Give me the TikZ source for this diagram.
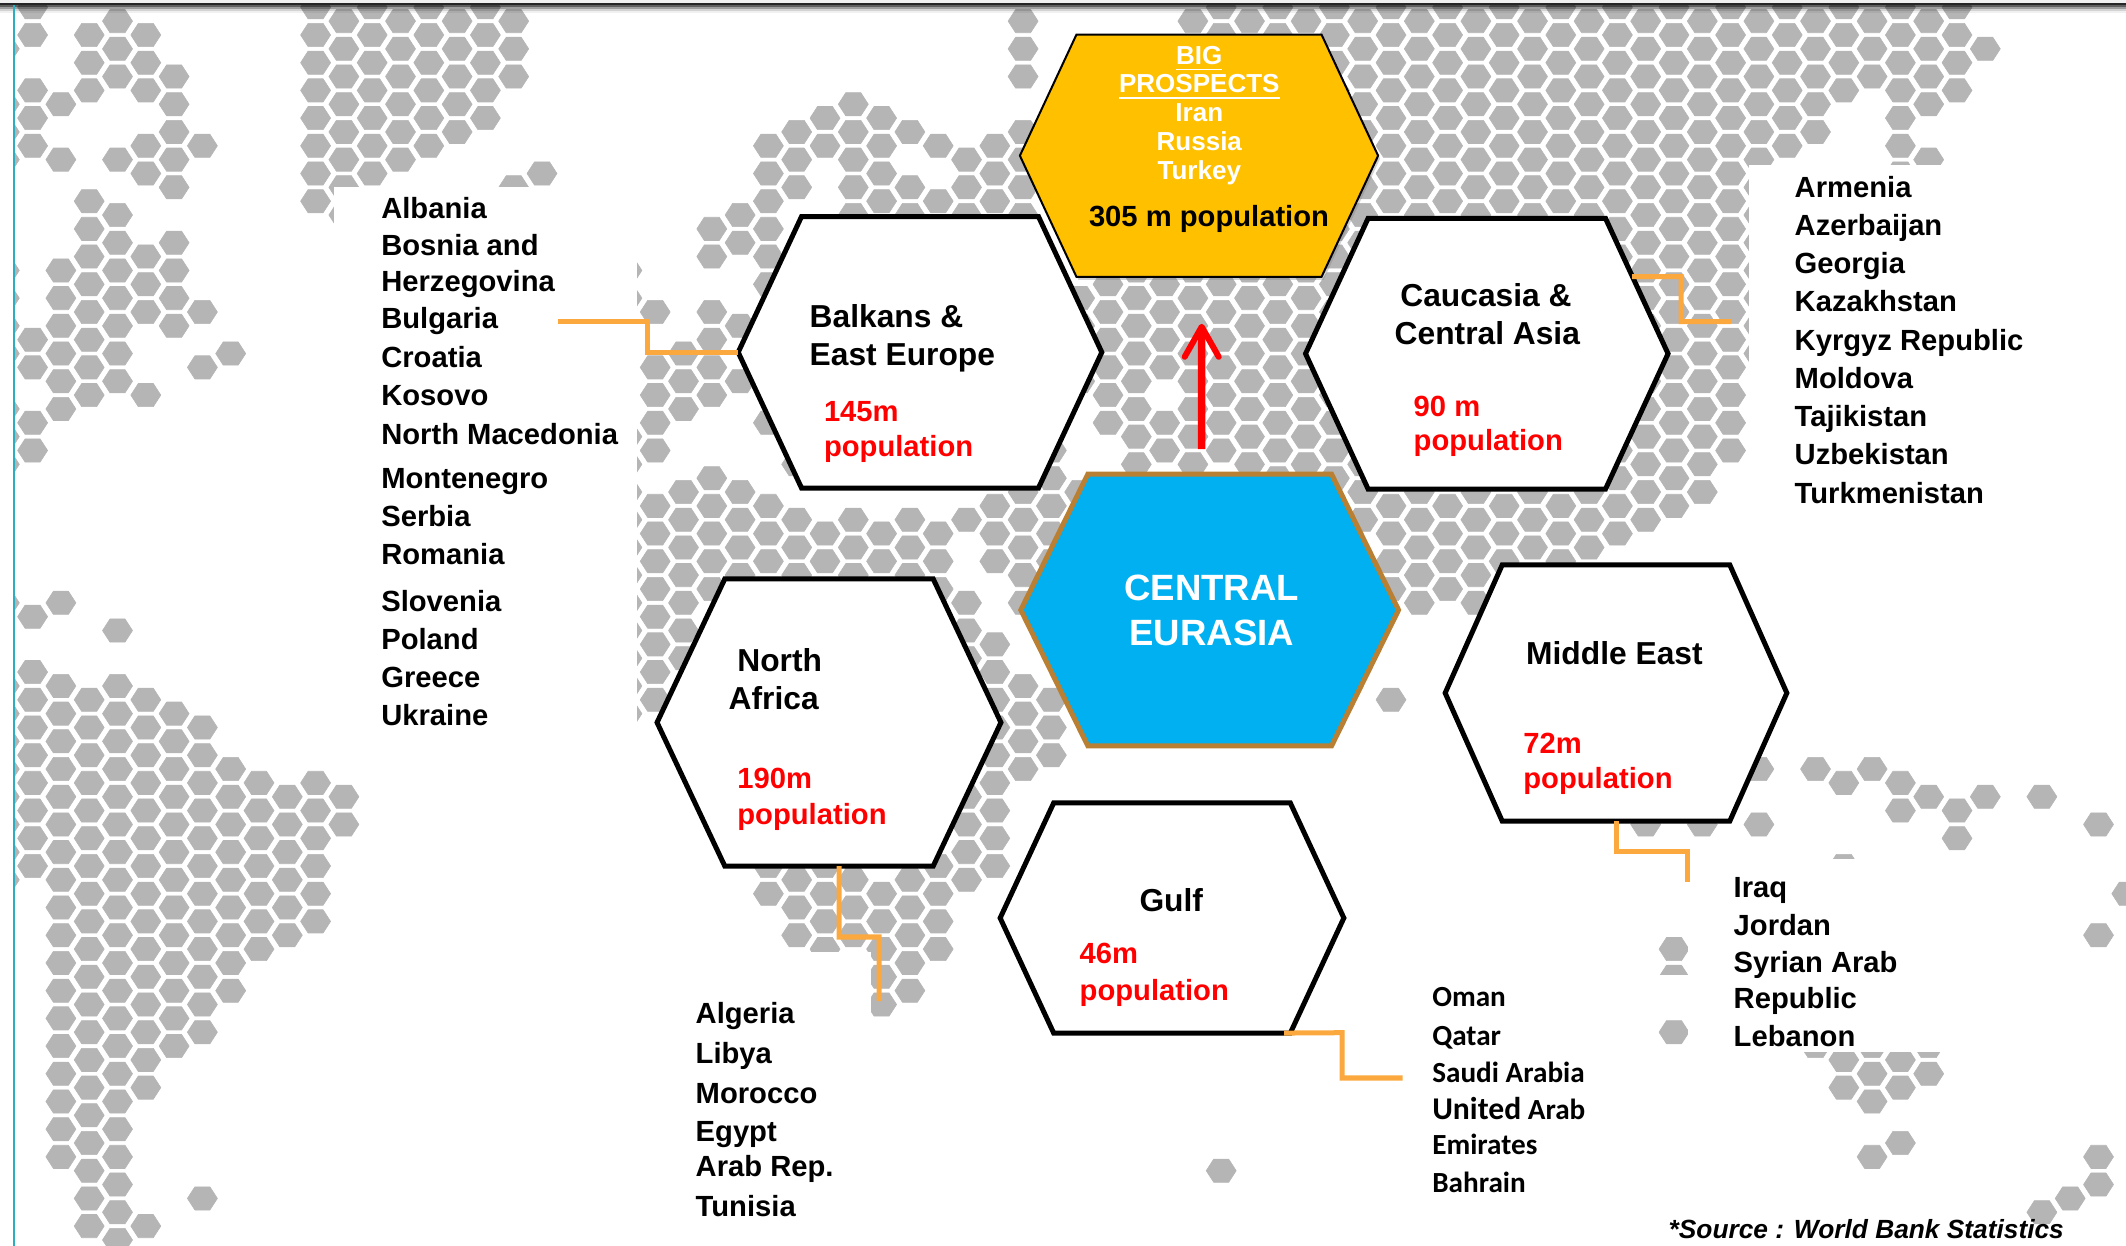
\documentclass[tikz,border=0pt]{standalone}
\usepackage{fontspec}
\setmainfont{Liberation Sans}
\newfontfamily\gulffont{Carlito}
\usetikzlibrary{arrows.meta, shadows}

\definecolor{cellgray}{HTML}{B5B5B5}
\definecolor{goldfill}{HTML}{FFC000}
\definecolor{skyfill}{HTML}{00B0F0}
\definecolor{bronze}{HTML}{B97F32}
\definecolor{leadorange}{HTML}{FBA93E}
\definecolor{edgeteal}{HTML}{2CAEBF}

% one column of map cells, k = column, list = row ranges a/b or single rows
\newcommand{\hexcol}[2]{%
  \pgfmathsetmacro\cx{32.6+28.3*(#1)}%
  \pgfmathsetmacro\dy{7.3+13.85*abs(mod(#1,2))}%
  \foreach \ra/\rb in {#2}{%
    \foreach \j in {\ra,...,\rb}{%
      \pgfmathsetmacro\cy{\dy+27.7*\j}%
      \filldraw[cell] (\cx-15,\cy) -- ++(7.5,-11.6) -- ++(15,0) -- ++(7.5,11.6) -- ++(-7.5,11.6) -- ++(-15,0) -- cycle;
    }%
  }%
}
% hexagon drawn round the box of a named node
\newcommand{\hexoutline}[3]{%
  \draw[#3] (#1.west) -- ([xshift=#2]#1.north west) -- ([xshift=-#2]#1.north east) -- (#1.east)
    -- ([xshift=-#2]#1.south east) -- ([xshift=#2]#1.south west) -- cycle;
}

\tikzset{
  cell/.style={fill=cellgray, draw=cellgray, line width=0.006cm, line join=round},
  mask/.style={fill=white, draw=none},
  hexbox/.style={rectangle, inner sep=0pt, outer sep=0pt},
  plainhex/.style={draw=black, fill=white, line width=0.05cm, line join=miter},
  goldhex/.style={draw=black, fill=goldfill, line width=0.02cm, line join=miter,
    drop shadow={shadow xshift=0.02cm, shadow yshift=-0.03cm, opacity=0.35}},
  skyhex/.style={draw=bronze, fill=skyfill, line width=0.05cm, line join=miter},
  regionname/.style={font=\bfseries\fontsize{9.03}{11}\selectfont, anchor=base west, inner sep=0pt},
  popcount/.style={font=\bfseries\fontsize{8.3}{10}\selectfont, text=red, anchor=base west, inner sep=0pt},
  listtext/.style={font=\bfseries\fontsize{8.3}{10}\selectfont, anchor=base west, inner sep=0pt},
  gulftext/.style={font=\gulffont\bfseries\fontsize{8.3}{10}\selectfont, anchor=base west, inner sep=0pt},
  bigtext/.style={font=\bfseries\fontsize{7.4}{9}\selectfont, text=white, anchor=base, inner sep=0pt},
  lead/.style={draw=leadorange, line width=0.05cm, line join=miter},
}

\begin{document}
\begin{tikzpicture}[x=0.01cm, y=-0.01cm]
  \useasboundingbox (0,0) rectangle (2126,1246);

  % Map cells
  \hexcol{-1}{1,3/5,9/12,14/16,21,24/31}
  \hexcol{0}{0,1,3/5,12,13,15,16,22,24/31}
  \hexcol{1}{3,5,9/14,21,24/41}
  \hexcol{2}{1/3,7/14,25/44}
  \hexcol{3}{0/2,5,7/13,22,24/44}
  \hexcol{4}{1/3,5,6,9/11,14,25/39,44}
  \hexcol{5}{2/6,8/11,25/37}
  \hexcol{6}{5,11,13,26/37,43}
  \hexcol{7}{12,27/35}
  \hexcol{8}{28/34}
  \hexcol{9}{28/33}
  \hexcol{10}{0/7,28/33}
  \hexcol{11}{0/7,28,29}
  \hexcol{12}{0/6}
  \hexcol{13}{0/5}
  \hexcol{14}{0/5}
  \hexcol{15}{0/4}
  \hexcol{16}{0/4}
  \hexcol{17}{0/2,6}
  \hexcol{18}{6}
  \hexcol{21}{9,10,15/25}
  \hexcol{22}{11,13/16,18/25}
  \hexcol{23}{12/14,17/23}
  \hexcol{24}{8,9,11/14,17/21}
  \hexcol{25}{7,8,11,13,17/20}
  \hexcol{26}{5/10,15,18/20,31,32}
  \hexcol{27}{4/6,16,18/20,31/33}
  \hexcol{28}{4,5,19,20,31/34}
  \hexcol{29}{3/7,18/20,31/33}
  \hexcol{30}{4/7,19,20,32/36}
  \hexcol{31}{4,6,7,18/20,31/35}
  \hexcol{32}{5,7,19/21,31/34}
  \hexcol{33}{5/7,18,21/25,28/31}
  \hexcol{34}{5/7,18/20,23/31}
  \hexcol{35}{0/2,4/7,17/21,24/27}
  \hexcol{36}{16/20,25/27}
  \hexcol{37}{10/13,17/21}
  \hexcol{38}{9/15}
  \hexcol{39}{9/16}
  \hexcol{40}{9/13,15,16}
  \hexcol{41}{0/17}
  \hexcol{42}{0/16,42}
  \hexcol{43}{0/17}
  \hexcol{44}{0/17}
  \hexcol{45}{0/17}
  \hexcol{46}{0/17}
  \hexcol{47}{0/18}
  \hexcol{48}{0/21,25}
  \hexcol{49}{0/21}
  \hexcol{50}{0/21}
  \hexcol{51}{0/21}
  \hexcol{52}{0/20}
  \hexcol{53}{0/20}
  \hexcol{54}{0/20}
  \hexcol{55}{0/19}
  \hexcol{56}{0/19}
  \hexcol{57}{0/18,29}
  \hexcol{58}{0/18,34,35,37}
  \hexcol{59}{0/17,29}
  \hexcol{60}{0/16}
  \hexcol{61}{0/12,27,29}
  \hexcol{62}{0/5}
  \hexcol{63}{0/4,27,37}
  \hexcol{64}{0/3,28,31,38,39}
  \hexcol{65}{0/2,27,37/39,41}
  \hexcol{66}{0/6,28,29,38,39,41}
  \hexcol{67}{0/3,5,28,37,38}
  \hexcol{68}{0/3,29,30}
  \hexcol{69}{1,28}
  \hexcol{71}{28,43}
  \hexcol{72}{43}
  \hexcol{73}{29,33,41,42}
  \hexcol{74}{32}

  % White panels behind the country lists
  \fill[mask] (0,0) rectangle (13,1246);
  \fill[mask] (334,187) rectangle (637,732);
  \fill[mask] (1749,165) rectangle (2126,560);
  \fill[mask] (1688,859) rectangle (1980,1052);
  \fill[mask] (1640,975) rectangle (1688,1015);
  \fill[mask] (600,952) rectangle (871,1246);

  % Page edges
  \fill[black!6] (0,0) rectangle (2126,3.5);
  \foreach \s/\o in {7/.4,9/.25,11/.12,13/.06}
    \fill[black, opacity=\o] (0,5) rectangle (2126,\s);
  \fill[black!85] (0,3.5) rectangle (2126,5.5);
  \draw[edgeteal, line width=0.023cm] (13.8,5) -- (13.8,1246);

  % Place main nodes
  \node[hexbox, minimum width=3.58cm, minimum height=2.42cm] (gold) at (1199,155.7) {};
  \node[hexbox, minimum width=3.634cm, minimum height=2.713cm] (balkans) at (920,352.3) {};
  \node[hexbox, minimum width=3.623cm, minimum height=2.705cm] (caucasia) at (1486.8,353.7) {};
  \node[hexbox, minimum width=3.775cm, minimum height=2.717cm] (central) at (1209.7,610) {};
  \node[hexbox, minimum width=3.437cm, minimum height=2.87cm] (nafrica) at (829,722.5) {};
  \node[hexbox, minimum width=3.435cm, minimum height=2.3cm] (gulf) at (1172,918) {};
  \node[hexbox, minimum width=3.415cm, minimum height=2.56cm] (mideast) at (1616,693) {};

  % Hexagons round them
  \hexoutline{gold}{0.565cm}{goldhex}
  \hexoutline{balkans}{0.633cm}{plainhex}
  \hexoutline{caucasia}{0.625cm}{plainhex}
  \hexoutline{central}{0.67cm}{skyhex}
  \hexoutline{nafrica}{0.677cm}{plainhex}
  \hexoutline{gulf}{0.535cm}{plainhex}
  \hexoutline{mideast}{0.57cm}{plainhex}

  % Free ends of the leads
  \coordinate (balkansend) at (558,322);
  \coordinate (caucasiaend) at (1731,321.7);
  \coordinate (mideastend) at (1687,881.7);
  \coordinate (gulfend) at (1402.6,1078);
  \coordinate (nafricaend) at (879,1001);

  % Draw leads to the lists
  \draw[lead] (balkans.west) -- (647,352.3) -- (647,322) -- (balkansend);
  \draw[lead] ([xshift=-0.36cm, yshift=0.77cm]caucasia.east) -- (1681,276.7) -- (1681,321.7) -- (caucasiaend);
  \draw[lead] (mideast.south) -- (1616,851.7) -- (1687,851.7) -- (mideastend);
  \draw[lead] ([xshift=1.12cm]gulf.south) -- (1342,1032.7) -- (1342,1078) -- (gulfend);
  \draw[lead] ([xshift=0.1cm]nafrica.south) -- (839,937) -- (879,937) -- (nafricaend);

  % Arrow up to the prospects
  \draw[red, line width=0.075cm, shorten <=0.25cm, shorten >=0.47cm,
        -{Straight Barb[length=0.3cm, width=0.34cm, round, line width=0.06cm]}]
        ([xshift=-0.08cm]central.north) -- ([xshift=0.027cm]gold.south);

  % Gold block
  \node[bigtext] (bigA) at (1199.3,64.5) {\underline{BIG}};
  \node[bigtext] (bigB) at (1199.3,93) {\underline{PROSPECTS}};
  \node[bigtext] (iran) at (1199.3,122) {Iran};
  \node[bigtext] (russia) at (1199.3,151) {Russia};
  \node[bigtext] (turkey) at (1199.3,180) {Turkey};
  \node[listtext] (goldpop) at (1088.3,227) {305 m population};

  % Centre block
  \node[font=\bfseries\fontsize{10.4}{12}\selectfont, text=white, anchor=base, inner sep=0pt] (centralA) at (1211.7,600.7) {CENTRAL};
  \node[font=\bfseries\fontsize{10.4}{12}\selectfont, text=white, anchor=base, inner sep=0pt] (centralB) at (1211.7,645.7) {EURASIA};

  % Region names and populations
  \node[regionname] (balkansA) at (809,327.5) {Balkans \&};
  \node[regionname] (balkansB) at (809,365.5) {East Europe};
  \node[popcount] (balkansC) at (823.3,422) {145m};
  \node[popcount] (balkansD) at (823.3,457) {population};

  \node[regionname] (caucasiaA) at (1399.7,306.5) {Caucasia \&};
  \node[regionname] (caucasiaB) at (1394,344.5) {Central Asia};
  \node[popcount] (caucasiaC) at (1413,417) {90 m};
  \node[popcount] (caucasiaD) at (1413,451) {population};

  \node[regionname] (nafricaA) at (736.7,672) {North};
  \node[regionname] (nafricaB) at (728,710) {Africa};
  \node[popcount] (nafricaC) at (736.7,788.5) {190m};
  \node[popcount] (nafricaD) at (736.7,824) {population};

  \node[regionname] (gulfA) at (1138.8,911.5) {Gulf};
  \node[popcount] (gulfB) at (1079,964) {46m};
  \node[popcount] (gulfC) at (1079,1000) {population};

  \node[regionname] (mideastA) at (1525.5,664.5) {Middle East};
  \node[popcount] (mideastB) at (1522.7,754) {72m};
  \node[popcount] (mideastC) at (1522.7,789) {population};

  % Country lists
  \foreach \txt/\y [count=\i] in {Albania/219, Bosnia and/256, Herzegovina/291.5, Bulgaria/329,
      Croatia/368, Kosovo/406, North Macedonia/445, Montenegro/489, Serbia/527, Romania/565,
      Slovenia/611.5, Poland/650, Greece/688, Ukraine/726}
    \node[listtext] (bal\i) at (380.6,\y) {\txt};

  \foreach \txt/\y [count=\i] in {Armenia/198, Azerbaijan/236, Georgia/274, Kazakhstan/312,
      Kyrgyz Republic/351, Moldova/389, Tajikistan/427, Uzbekistan/465, Turkmenistan/504}
    \node[listtext] (cau\i) at (1794,\y) {\txt};

  \foreach \txt/\y [count=\i] in {Iraq/897, Jordan/935.5, Syrian Arab/972.5, Republic/1008.5, Lebanon/1046}
    \node[listtext] (mid\i) at (1733,\y) {\txt};

  \foreach \txt/\y [count=\i] in {Algeria/1024, Libya/1063, Morocco/1103.5, Egypt/1141, Arab Rep./1176.5, Tunisia/1216}
    \node[listtext] (afr\i) at (695,\y) {\txt};

  \foreach \txt/\y [count=\i] in {Oman/1006, Qatar/1045, Saudi Arabia/1082.5, {{\fontsize{9}{10}\selectfont United} Arab}/1119, Emirates/1154, Bahrain/1192.5}
    \node[gulftext] (gul\i) at (1431.6,\y) {\txt};

  % Source note
  \node[font=\bfseries\itshape\fontsize{7.48}{9}\selectfont, anchor=base west, inner sep=0pt] (source) at (1668,1238) {*Source : World Bank Statistics};
\end{tikzpicture}
\end{document}
